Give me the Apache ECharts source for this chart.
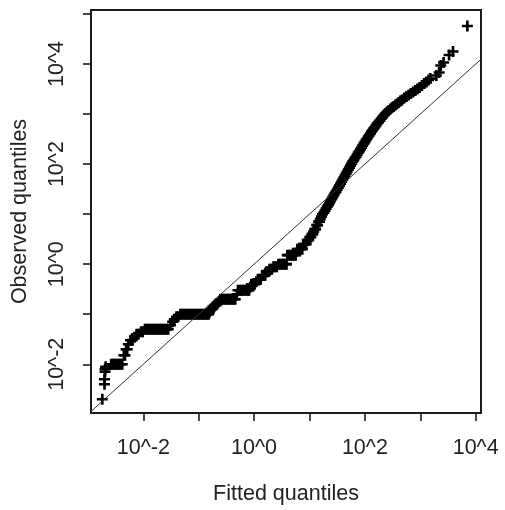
<!DOCTYPE html>
<html>
<head>
<meta charset="utf-8">
<script src="https://cdn.jsdelivr.net/npm/echarts@6/dist/echarts.min.js"></script>
<style>
  html, body { margin: 0; padding: 0; background: #ffffff; }
  #chart { width: 505px; height: 510px; }
</style>
</head>
<body>
<div id="chart"></div>
<script>
// Quantile pairs, stored as base-10 exponents (the plot is log-log).
const fittedLog10 = [
  -2.74, -2.70, -2.70, -2.69, -2.69, -2.68,
  -2.58, -2.555, -2.53, -2.505, -2.48, -2.455, -2.43, -2.405, -2.38,
  -2.35, -2.33, -2.31, -2.29, -2.27, -2.23, -2.20, -2.16, -2.12, -2.09, -2.04, -2.01,
  -1.97, -1.94, -1.91, -1.88, -1.85, -1.82, -1.79, -1.76, -1.73, -1.70, -1.67, -1.64, -1.61, -1.58, -1.55,
  -1.51, -1.47, -1.44, -1.40, -1.37,
  -1.33, -1.30, -1.27, -1.24, -1.21, -1.18, -1.15, -1.12, -1.09, -1.06, -1.03, -1.00, -0.97, -0.94, -0.91, -0.88, -0.85, -0.82,
  -0.805, -0.787, -0.769, -0.742, -0.715, -0.688, -0.670, -0.652, -0.634,
  -0.61, -0.58, -0.55, -0.52, -0.49, -0.46, -0.43, -0.40, -0.37, -0.34,
  -0.31, -0.29, -0.26, -0.23, -0.20, -0.17, -0.14, -0.11, -0.09, -0.07,
  -0.05, -0.02, 0.01, 0.04, 0.07, 0.10, 0.12, 0.15, 0.18, 0.20,
  0.22, 0.25, 0.28, 0.30, 0.32, 0.35, 0.38, 0.41,
  0.44, 0.47, 0.50, 0.53, 0.56, 0.585,
  0.60, 0.63, 0.66, 0.69, 0.72, 0.75, 0.78, 0.81, 0.84, 0.87,
  0.89, 0.915, 0.94, 0.96, 0.985, 1.005, 1.025, 1.045, 1.06, 1.075,
  1.095, 1.11, 1.13, 1.145, 1.165, 1.18, 1.195, 1.215, 1.235,
  1.26, 1.28, 1.30, 1.32, 1.34, 1.36, 1.38, 1.40, 1.42,
  1.44, 1.46, 1.48, 1.50, 1.52, 1.54, 1.56, 1.58, 1.60,
  1.62, 1.64, 1.66, 1.68, 1.70, 1.72, 1.74, 1.76,
  1.78, 1.80, 1.82, 1.84, 1.86, 1.88, 1.90,
  1.92, 1.94, 1.96, 1.98, 2.00, 2.02, 2.04, 2.06,
  2.08, 2.10, 2.12, 2.14, 2.16, 2.18, 2.20, 2.22,
  2.245, 2.27, 2.295, 2.32, 2.345, 2.37,
  2.40, 2.43, 2.46, 2.49,
  2.52, 2.55, 2.58, 2.61, 2.64, 2.67,
  2.71, 2.75, 2.79, 2.83, 2.87, 2.91, 2.95,
  2.99, 3.03, 3.07, 3.11, 3.15, 3.18,
  3.29, 3.34, 3.37, 3.42, 3.52, 3.59, 3.85
];
const observedLog10 = [
  -2.70, -2.40, -2.30, -2.15, -2.10, -2.05,
  -2.00, -2.00, -2.00, -2.00, -2.00, -2.00, -2.00, -2.00, -2.00,
  -1.82, -1.82, -1.70, -1.70, -1.60, -1.52, -1.52, -1.46, -1.40, -1.40, -1.35, -1.35,
  -1.30, -1.30, -1.30, -1.30, -1.30, -1.30, -1.30, -1.30, -1.30, -1.30, -1.30, -1.30, -1.30, -1.30, -1.30,
  -1.22, -1.15, -1.10, -1.05, -1.05,
  -1.00, -1.00, -1.00, -1.00, -1.00, -1.00, -1.00, -1.00, -1.00, -1.00, -1.00, -1.00, -1.00, -1.00, -1.00, -1.00, -1.00, -1.00,
  -0.96, -0.92, -0.89, -0.85, -0.82, -0.82, -0.80, -0.77, -0.74,
  -0.70, -0.70, -0.70, -0.70, -0.70, -0.70, -0.70, -0.70, -0.70, -0.70,
  -0.60, -0.52, -0.52, -0.52, -0.52, -0.52, -0.52, -0.52, -0.52, -0.46,
  -0.40, -0.40, -0.40, -0.35, -0.30, -0.30, -0.30, -0.22, -0.22, -0.22,
  -0.15, -0.15, -0.10, -0.10, -0.10, -0.05, -0.05, -0.05,
  0.00, 0.00, 0.00, 0.00, 0.00, 0.00,
  0.18, 0.18, 0.18, 0.18, 0.18, 0.18, 0.30, 0.30, 0.30, 0.30,
  0.40, 0.40, 0.40, 0.48, 0.48, 0.54, 0.54, 0.60, 0.60, 0.65,
  0.70, 0.70, 0.78, 0.78, 0.85, 0.85, 0.90, 0.95, 1.00,
  1.03, 1.07, 1.11, 1.15, 1.18, 1.22, 1.26, 1.30, 1.34,
  1.38, 1.42, 1.45, 1.49, 1.53, 1.57, 1.61, 1.65, 1.69,
  1.73, 1.77, 1.81, 1.85, 1.89, 1.93, 1.97, 2.01,
  2.05, 2.08, 2.12, 2.15, 2.19, 2.23, 2.26,
  2.30, 2.33, 2.37, 2.41, 2.44, 2.48, 2.51, 2.55,
  2.58, 2.61, 2.65, 2.68, 2.71, 2.74, 2.77, 2.81,
  2.84, 2.87, 2.91, 2.94, 2.98, 3.01,
  3.04, 3.07, 3.10, 3.13,
  3.15, 3.18, 3.20, 3.23, 3.26, 3.28,
  3.32, 3.35, 3.38, 3.41, 3.44, 3.47, 3.50,
  3.53, 3.57, 3.61, 3.64, 3.68, 3.71,
  3.77, 3.83, 3.97, 4.03, 4.18, 4.25, 4.76
];

// Axis decorations (exponents of ten)
const xTickExponents = [-2, -1, 0, 1, 2, 3, 4];
const xLabelExponents = [-2, 0, 2, 4];
const yTickExponents = [-2, -1, 0, 1, 2, 3, 4, 5];
const yLabelExponents = [-2, 0, 2, 4];

// Visible extents of the two log axes (data range plus 4% padding)
const xRange = [-2.944, 4.096];
const yRange = [-2.974, 5.08];

const points = fittedLog10.map((fx, i) => [fx, observedLog10[i]]);
const refLine = [[xRange[0], xRange[0]], [xRange[1], xRange[1]]];

const FONT = '"Liberation Sans", Arial, sans-serif';
const INK = '#222222';
// "+" glyph as a filled cross
const PLUS = 'path://M3.8,0H6.2V3.8H10V6.2H6.2V10H3.8V6.2H0V3.8H3.8Z';
const powerLabel = v => '10^' + Math.round(v);

const chart = echarts.init(document.getElementById('chart'), null, { renderer: 'canvas' });
chart.setOption({
  animation: false,
  backgroundColor: '#ffffff',
  grid: {
    left: 91, right: 24, top: 10, bottom: 97,
    show: true, borderColor: '#1c1c1c', borderWidth: 2,
    backgroundColor: 'transparent',
    outerBoundsMode: 'none'
  },
  xAxis: {
    type: 'value',
    min: xRange[0], max: xRange[1],
    name: 'Fitted quantiles',
    nameLocation: 'middle',
    nameGap: 70,
    nameTextStyle: { fontFamily: FONT, fontSize: 21.5, color: INK },
    axisLine: { show: false, onZero: false },
    splitLine: { show: false },
    axisTick: {
      show: true, inside: false, length: 8,
      customValues: xTickExponents,
      lineStyle: { color: '#1c1c1c', width: 1.6 }
    },
    axisLabel: {
      show: true, margin: 24,
      customValues: xLabelExponents,
      formatter: powerLabel,
      fontFamily: FONT, fontSize: 21.5, color: INK
    }
  },
  yAxis: {
    type: 'value',
    min: yRange[0], max: yRange[1],
    name: 'Observed quantiles',
    nameLocation: 'middle',
    nameGap: 60,
    nameTextStyle: { fontFamily: FONT, fontSize: 21.5, color: INK },
    axisLine: { show: false, onZero: false },
    splitLine: { show: false },
    axisTick: {
      show: true, inside: false, length: 8,
      customValues: yTickExponents,
      lineStyle: { color: '#1c1c1c', width: 1.6 }
    },
    axisLabel: {
      show: true, margin: 23, rotate: 90,
      customValues: yLabelExponents,
      formatter: powerLabel,
      fontFamily: FONT, fontSize: 21.5, color: INK
    }
  },
  series: [
    {
      type: 'scatter',
      data: points,
      symbol: PLUS,
      symbolSize: 11,
      itemStyle: { color: '#000000', opacity: 1 },
      z: 2
    },
    {
      type: 'line',
      data: refLine,
      symbol: 'none',
      lineStyle: { color: '#333333', width: 1 },
      z: 3
    }
  ]
});
</script>
</body>
</html>
